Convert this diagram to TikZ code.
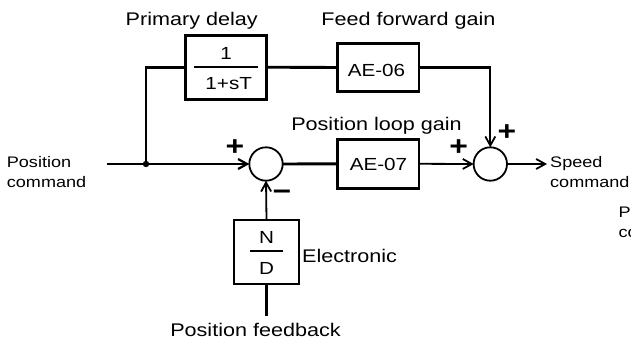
\documentclass[tikz,border=0pt]{standalone}
\usepackage{fontspec}
\setmainfont{Liberation Sans}[FakeStretch=1.18]
\usetikzlibrary{arrows.meta}
\begin{document}
\begin{tikzpicture}[x=1pt,y=-1pt,
  blk/.style={draw, line width=2.9pt, inner sep=0pt, outer sep=0pt},
  sumj/.style={circle, draw, line width=1.8pt, minimum size=33.4pt, inner sep=0pt, outer sep=0pt},
  thk/.style={line width=2.9pt},
  thn/.style={line width=1.8pt},
  arr/.style={line width=1.8pt, -{Straight Barb[length=9pt,width=10pt]}},
  big/.style={font=\fontsize{18.3}{22}\selectfont, inner sep=0pt},
  small/.style={font=\fontsize{15.3}{20}\selectfont, inner sep=0pt, align=left, anchor=north west},
  inbox/.style={font=\fontsize{17.5}{20}\selectfont, inner sep=0pt, anchor=base},
  sign/.style={font=\fontsize{27}{27}\selectfont\bfseries, inner sep=0pt},
  fracline/.style={line width=2.7pt}]
\useasboundingbox (0,0) rectangle (631,343);

% blocks
\node[blk, minimum width=81pt, minimum height=64.3pt] (pd) at (226.2,67.2) {};
\node[blk, minimum width=81.3pt, minimum height=48.4pt] (ae06) at (378.3,67.5) {};
\node[blk, minimum width=81.3pt, minimum height=49pt] (ae07) at (378.3,163.8) {};
\node[blk, minimum width=65pt, minimum height=64pt] (nd) at (266.5,252) {};
\node[sumj] (s1) at (266,164) {};
\node[sumj] (s2) at (490.3,164) {};

\coordinate (in) at (107,164);
\coordinate (br) at (146,164);
\coordinate (out) at (547,164);
\coordinate (fb) at (266.5,316);
\coordinate (cn) at (s2.north |- ae06.east);

% block contents
\draw[fracline] (194,67) -- (258,67);
\node[inbox] (one) at (226.2,59.3) {1};
\node[inbox] (den) at (228.7,89.3) {1+sT};
\node[inbox] (t06) at (376.5,76.7) {AE-06};
\node[inbox] (t07) at (378.5,170) {AE-07};
\draw[fracline] (250,251) -- (283,251);
\node[inbox] (tn) at (266.5,243.3) {N};
\node[inbox] (td) at (266.5,274) {D};

% connectors
\draw[line width=2.2pt] (in) -- (br);
\draw[arr, line width=2.2pt] (br) -- (s1.west);
\draw[thk] (br) |- (pd.west);
\fill (br) circle (3.2pt);
\draw[thk] (pd.east) -- (ae06.west);
\draw[thk, shorten >=-0.9pt] (ae06.east) -- (cn);
\draw[arr] (cn) -- (s2.north);
\draw[thk] (s1.east) -- (ae07.west);
\draw[arr] (ae07.east) -- (s2.west);
\draw[arr] (s2.east) -- (out);
\draw[arr] (nd.north) -- (s1.south);
\draw[line width=2.2pt] (nd.south) -- (fb);

% labels
\node[big, anchor=base] (tpd) at (191.7,25.7) {Primary delay};
\node[big, anchor=base] (tff) at (408.5,25.7) {Feed forward gain};
\node[big, anchor=base] (tpl) at (376.5,130) {Position loop gain};
\node[big, anchor=base] (tpf) at (255.5,336.7) {Position feedback};
\node[big, anchor=base west] (tel) at (302,262) {Electronic};
\node[small] (tin) at (6.7,156.7) {Position\\command};
\node[small] (tout) at (550,156.3) {Speed\\command};
\node[small] (tclip) at (618.3,206) {Position\\command};

% signs
\node[sign] (p1) at (235,148) {+};
\node[sign] (p2) at (458.7,148) {+};
\node[sign] (p3) at (507,132.5) {+};
\node[sign] (m1) at (282,195) {−};
\end{tikzpicture}
\end{document}
